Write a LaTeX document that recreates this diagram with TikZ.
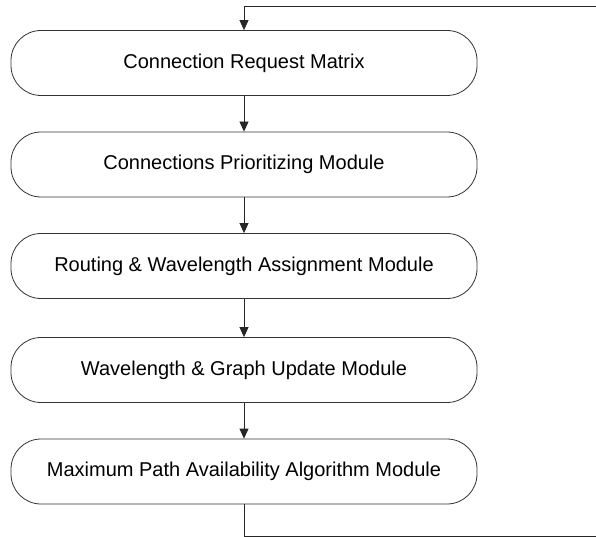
\documentclass[tikz,border=0pt]{standalone}
\usepackage{fontspec}
\setmainfont{Liberation Sans}
\usetikzlibrary{arrows.meta}

\begin{document}
\begin{tikzpicture}[x=1pt,y=-1pt,
    module/.style={draw=black!80, line width=0.8pt, rectangle, rounded corners=30pt,
      minimum width=466pt, minimum height=65pt, inner sep=0pt,
      font=\fontsize{20}{24}\selectfont},
    flow/.style={draw=black!85, line width=0.8pt, -{Triangle[length=10pt,width=9pt]}}]
  \useasboundingbox (0,0) rectangle (596,537);
  \node[module] (crm) at (244,63) {Connection Request Matrix};
  \node[module] (cpm) at (244,164.5) {Connections Prioritizing Module};
  \node[module] (rwa) at (244,266) {Routing \& Wavelength Assignment Module};
  \node[module] (wgu) at (244,370) {Wavelength \& Graph Update Module};
  \node[module] (mpa) at (244,471.5) {Maximum Path Availability Algorithm Module};
  \coordinate (inR) at (596,6);
  \coordinate (outR) at (596,536);
  \draw[flow] (crm) -- (cpm);
  \draw[flow] (cpm) -- (rwa);
  \draw[flow] (rwa) -- (wgu);
  \draw[flow] (wgu) -- (mpa);
  % feedback loop
  \draw[flow] (inR) -- (inR -| crm.north) -- (crm.north);
  \draw[draw=black!85, line width=0.8pt] (mpa.south) -- (mpa.south |- outR) -- (outR);
\end{tikzpicture}
\end{document}
